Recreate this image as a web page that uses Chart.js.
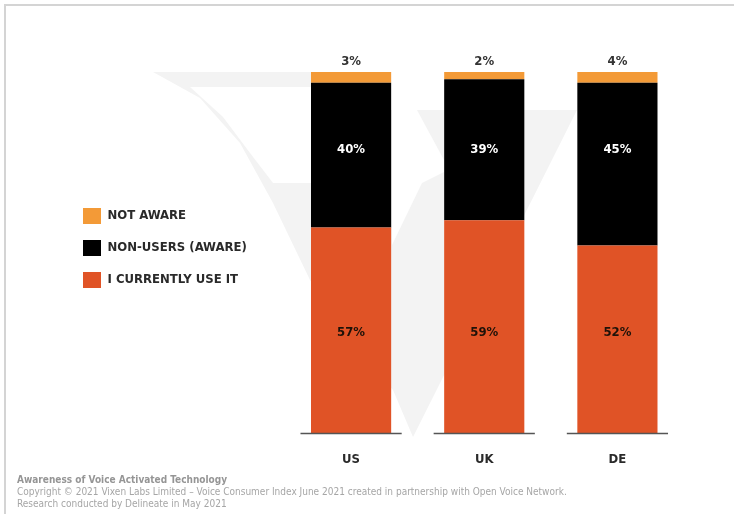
<!DOCTYPE html>
<html>
<head>
<meta charset="utf-8">
<script src="https://cdn.jsdelivr.net/npm/chart.js@4/dist/chart.umd.min.js"></script>
<style>
  html, body { margin: 0; padding: 0; background: #fff; }
  #wrap { position: relative; width: 734px; height: 514px; overflow: hidden; }
  #frame { position: absolute; left: 4px; top: 4px; right: -4px; bottom: -4px;
           border-top: 2px solid #d4d4d4; border-left: 2px solid #d4d4d4; }
  canvas { position: absolute; left: 0; top: 0; }
  #notes { position: absolute; left: 17px; top: 474px; color: #a6a6a6;
           font-family: 'Liberation Sans Narrow', 'DejaVu Sans Condensed', Roboto, sans-serif;
           font-size: 10px; line-height: 12px; }
  #notes b { color: #959595; }
</style>
</head>
<body>
<div id="wrap">
  <div id="frame"></div>
  <canvas id="chart-voice" width="734" height="514"></canvas>
  <div id="notes">
    <b>Awareness of Voice Activated Technology</b><br>
    Copyright © 2021 Vixen Labs Limited – Voice Consumer Index June 2021 created in partnership with Open Voice Network.<br>
    Research conducted by Delineate in May 2021
  </div>
</div>
<script>
'use strict';

const COUNTRIES = ['US', 'UK', 'DE'];
const SERIES = ['I CURRENTLY USE IT', 'NON-USERS (AWARE)', 'NOT AWARE'];
const CURRENTLY_USE = [57, 59, 52];
const NON_USERS = [40, 39, 45];
const NOT_AWARE = [3, 2, 4];

const COLORS = {
  use: '#e05326',
  aware: '#000000',
  notAware: '#f39a37',
  axis: '#555555',
  text: '#2a2a2a',
  mark: '#f3f3f3'
};

const FONT = "'Liberation Sans Narrow', 'DejaVu Sans Condensed', 'Roboto Condensed', sans-serif";
const CAT_PCT = 0.76;
const LEGEND_WIDTH = 217.5;
// in-bar labels sit on one row per series (value-axis units)
const LABEL_ROW = [28, 78.5];

Chart.defaults.font.family = FONT;
Chart.defaults.font.weight = 'bold';
Chart.defaults.color = COLORS.text;

// keep a fixed gap between the legend column and the bars
const legendRoom = {
  id: 'legendRoom',
  afterInit(chart) {
    const legend = chart.legend;
    const fit = legend.fit.bind(legend);
    legend.fit = () => { fit(); legend.width = LEGEND_WIDTH; };
  }
};

// faint V logo behind the bars
const watermark = {
  id: 'watermark',
  beforeDatasetsDraw(chart) {
    const ctx = chart.ctx;
    const poly = (pts, fill) => {
      ctx.beginPath();
      pts.forEach(([x, y], i) => i ? ctx.lineTo(x, y) : ctx.moveTo(x, y));
      ctx.closePath();
      ctx.fillStyle = fill;
      ctx.fill();
    };
    ctx.save();
    poly([[153, 72], [350, 72], [350, 110], [577, 110], [413, 437], [393, 390],
          [340, 330], [310, 280], [273, 203], [240, 143], [200, 98]], COLORS.mark);
    poly([[190, 87], [350, 87], [350, 183], [273, 183], [250, 153], [223, 117]], '#fff');
    poly([[392, 110], [417, 110], [444, 160], [444, 172], [422, 183], [392, 245]], '#fff');
    ctx.restore();
  }
};

// short baseline under each bar plus the value labels
const barLabels = {
  id: 'barLabels',
  afterDatasetsDraw(chart) {
    const ctx = chart.ctx;
    const x = chart.scales.x, y = chart.scales.y;
    const half = x.width / COUNTRIES.length * CAT_PCT / 2;
    const y0 = Math.round(y.getPixelForValue(0)) + 0.5;
    ctx.save();
    ctx.strokeStyle = COLORS.axis;
    ctx.lineWidth = 1.5;
    COUNTRIES.forEach((c, i) => {
      const cx = x.getPixelForValue(i);
      ctx.beginPath();
      ctx.moveTo(cx - half, y0);
      ctx.lineTo(cx + half, y0);
      ctx.stroke();
    });

    ctx.font = `bold 13px ${FONT}`;
    ctx.textAlign = 'center';
    ctx.textBaseline = 'middle';
    chart.data.datasets.forEach((ds, di) => {
      const meta = chart.getDatasetMeta(di);
      meta.data.forEach((bar, i) => {
        const v = ds.data[i];
        if (di === 2) {
          ctx.fillStyle = '#333';
          ctx.fillText(v + '%', bar.x, y.top - 10);
        } else {
          ctx.fillStyle = di === 1 ? '#fff' : '#1e1209';
          ctx.fillText(v + '%', bar.x, y.getPixelForValue(LABEL_ROW[di]));
        }
      });
    });
    ctx.restore();
  }
};

const bar = (label, data, color) => ({
  label, data,
  backgroundColor: color,
  borderWidth: 0,
  categoryPercentage: CAT_PCT,
  barPercentage: 80 / 101
});

new Chart(document.getElementById('chart-voice'), {
  type: 'bar',
  data: {
    labels: COUNTRIES,
    datasets: [
      bar(SERIES[0], CURRENTLY_USE, COLORS.use),
      bar(SERIES[1], NON_USERS, COLORS.aware),
      bar(SERIES[2], NOT_AWARE, COLORS.notAware)
    ]
  },
  options: {
    responsive: false,
    animation: false,
    layout: { padding: { left: 67, right: 50, top: 72, bottom: 29 } },
    plugins: {
      legend: {
        position: 'left',
        fullSize: false,
        align: 'start',
        reverse: true,
        title: { display: true, text: '', padding: { top: 108, bottom: 0 }, font: { size: 12, lineHeight: 1 } },
        labels: {
          boxWidth: 18, boxHeight: 16, padding: 16,
          color: COLORS.text,
          font: { size: 13, weight: 'bold' }
        }
      },
      tooltip: { enabled: false }
    },
    scales: {
      x: {
        stacked: true,
        grid: { display: false, drawTicks: false },
        border: { display: false },
        ticks: { padding: 18, color: COLORS.text, font: { size: 13, weight: 'bold' } }
      },
      y: {
        display: false,
        stacked: true,
        min: 0, max: 100
      }
    }
  },
  plugins: [legendRoom, watermark, barLabels]
});
</script>
</body>
</html>
